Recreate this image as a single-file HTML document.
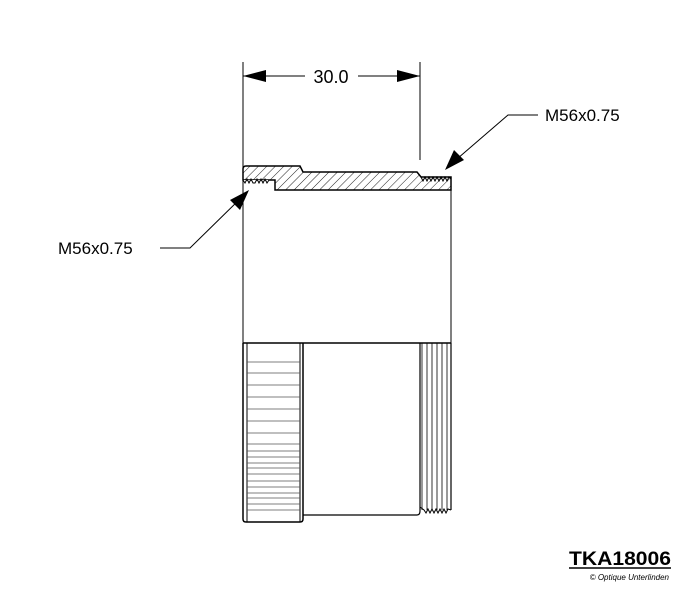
<!DOCTYPE html>
<html><head><style>body{margin:0;background:#fff}svg{display:block}</style></head><body>
<svg width="700" height="611" viewBox="0 0 700 611" xmlns="http://www.w3.org/2000/svg" font-family="Liberation Sans, Arial, sans-serif">
<defs>
<pattern id="h" width="6" height="6" patternUnits="userSpaceOnUse" patternTransform="rotate(45)">
<line x1="0" y1="0" x2="0" y2="6" stroke="#222" stroke-width="1"/>
</pattern>
</defs>
<g stroke="#000" stroke-width="1" fill="none">
<line x1="243" y1="62" x2="243" y2="343"/>
<line x1="420" y1="62" x2="420" y2="160"/>
<line x1="451" y1="180" x2="451" y2="343"/>
<line x1="243" y1="76" x2="305" y2="76"/>
<line x1="358" y1="76" x2="420" y2="76"/>
<polyline points="538,115 508,115 450,165"/>
<polyline points="160,248 190,248 243,196"/>
</g>
<g fill="#000">
<polygon points="243,76 266,70 266,82"/>
<polygon points="420,76 397,70 397,82"/>
<polygon points="445,170 454,150 464,160"/>
<polygon points="249,190 240,210 230,200"/>
</g>
<text x="331" y="83" font-size="18" text-anchor="middle">30.0</text>
<text x="545" y="121" font-size="17">M56x0.75</text>
<text x="58" y="254" font-size="17">M56x0.75</text>
<path d="M243,180 L243,169 Q243,166 246,166 L300,166 L303,172 L417,172 L421,177 L451,177 L451,190 L275,190 L275,180 Z" fill="url(#h)" stroke="#000" stroke-width="1.5"/>
<polyline points="243,180 245,183 247,179 249,183 251,179 253,183 255,183 257,179 259,183 261,179 263,183 265,179 267,183 269,180 275,180" fill="#fff" stroke="#000" stroke-width="1"/>
<polyline points="421,177 423,181 425,177 427,181 429,177 431,181 433,177 435,181 437,177 439,181 441,177 443,181 445,177 447,181 449,177 451,179" fill="none" stroke="#000" stroke-width="1"/>
<g stroke="#000" fill="none">
<path d="M243,343 L243,519 Q243,522 246,522 L300,522 Q303,522 303,519 L303,343" stroke-width="1.5"/>
<line x1="243" y1="343" x2="451" y2="343" stroke-width="1.5"/>
<line x1="247" y1="343" x2="247" y2="522"/>
<line x1="300" y1="343" x2="300" y2="522"/>
<path d="M303,515 L417,515 Q420,515 420,511 L420,343" stroke-width="1.2"/>
<line x1="451" y1="343" x2="451" y2="510" stroke-width="1.2"/>
<g stroke-width="0.8">
<line x1="422" y1="343" x2="422" y2="510"/>
<line x1="427" y1="343" x2="427" y2="510"/>
<line x1="432" y1="343" x2="432" y2="510"/>
<line x1="437" y1="343" x2="437" y2="510"/>
<line x1="442" y1="343" x2="442" y2="510"/>
<line x1="447" y1="343" x2="447" y2="510"/>
</g>
<polyline points="420,507 424,510 426,513 428,509 430,513 432,509 434,513 436,509 438,513 440,509 442,513 444,509 446,513 448,509 451,510" stroke-width="1"/>
<g stroke-width="0.8" stroke="#555">
<line x1="247" y1="362" x2="300" y2="362"/><line x1="247" y1="373" x2="300" y2="373"/>
<line x1="247" y1="385" x2="300" y2="385"/><line x1="247" y1="397" x2="300" y2="397"/>
<line x1="247" y1="409" x2="300" y2="409"/><line x1="247" y1="421" x2="300" y2="421"/>
<line x1="247" y1="433" x2="300" y2="433"/><line x1="247" y1="444" x2="300" y2="444"/>
<line x1="247" y1="451" x2="300" y2="451"/><line x1="247" y1="457" x2="300" y2="457"/>
<line x1="247" y1="463" x2="300" y2="463"/><line x1="247" y1="468" x2="300" y2="468"/>
<line x1="247" y1="474" x2="300" y2="474"/><line x1="247" y1="481" x2="300" y2="481"/>
<line x1="247" y1="487" x2="300" y2="487"/><line x1="247" y1="493" x2="300" y2="493"/>
<line x1="247" y1="498" x2="300" y2="498"/><line x1="247" y1="504" x2="300" y2="504"/>
<line x1="247" y1="510" x2="300" y2="510"/>
</g>
</g>
<text x="569" y="565" font-size="19" font-weight="bold" textLength="102" lengthAdjust="spacingAndGlyphs">TKA18006</text>
<line x1="569" y1="568" x2="671" y2="568" stroke="#000" stroke-width="1.5"/>
<text x="669" y="580" font-size="8" font-style="italic" text-anchor="end">© Optique Unterlinden</text>
</svg>
</body></html>
